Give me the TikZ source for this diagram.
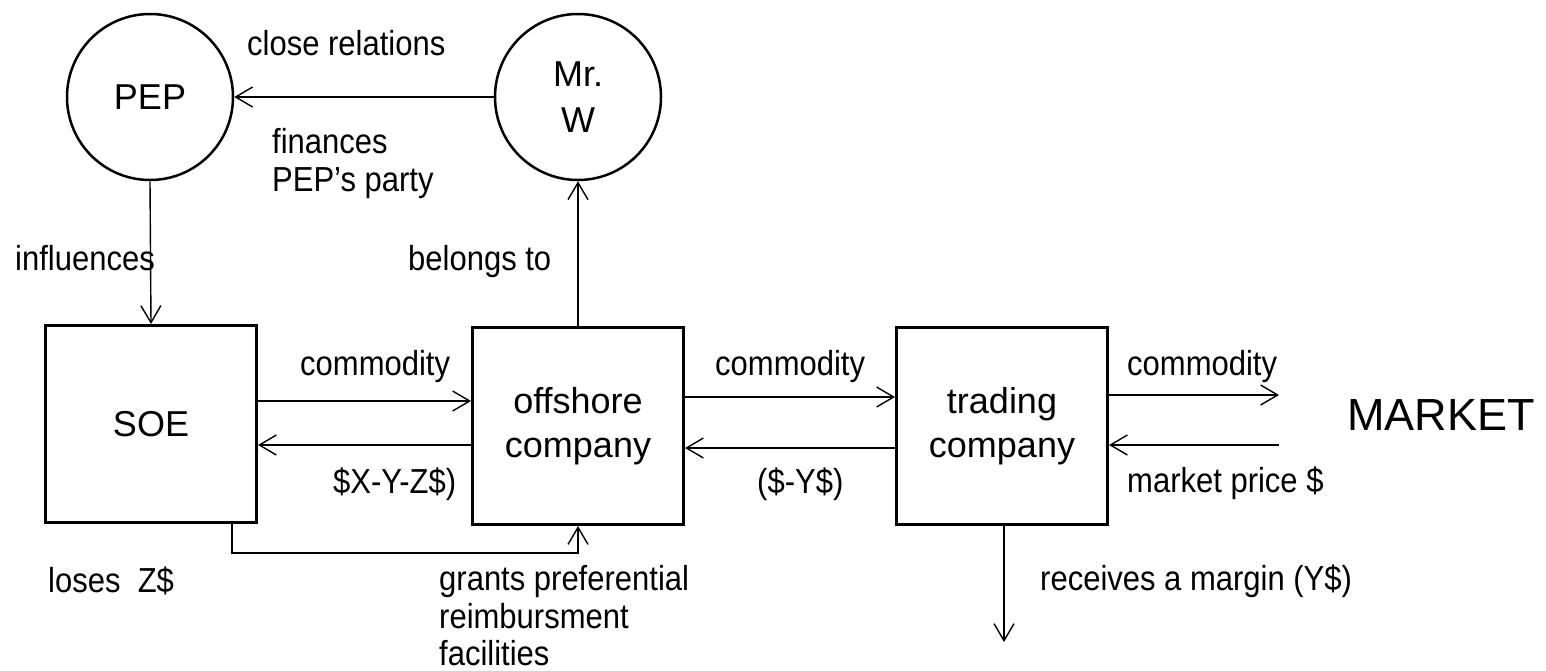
\documentclass[tikz,border=0pt]{standalone}
\usepackage{fontspec}
\setmainfont{Liberation Sans}
\usetikzlibrary{arrows.meta}
\newcommand{\sx}[1]{\scalebox{1}[1.12]{#1}}
\begin{document}
\begin{tikzpicture}[x=1pt,y=-1pt,
  lbl/.style={anchor=base west,inner sep=0pt,font=\fontsize{31}{38}\selectfont},
  circ/.style={draw,circle,line width=2.5pt,minimum size=166pt,inner sep=0pt,align=center,font=\fontsize{36}{46}\selectfont},
  box/.style={draw,rectangle,line width=3pt,minimum width=211pt,minimum height=197pt,inner sep=0pt,align=center,font=\fontsize{36}{44}\selectfont},
  conn/.style={line width=1.4pt,-{Straight Barb[length=17pt,width=20pt,line width=1.4pt]}}]
\useasboundingbox (0,0) rectangle (1546,670);
% nodes
\node[circ] (pep) at (150,97) {PEP};
\node[circ] (mrw) at (578,97) {Mr.\\W};
\node[box] (soe) at (151,424) {SOE};
\node[box] (off) at (578,426) {offshore\\company};
\node[box] (trade) at (1002,426) {trading\\company};
\node[anchor=base west,inner sep=0pt,font=\fontsize{45}{54}\selectfont] (market) at (1347,430) {MARKET};
% coordinates
\coordinate (r1) at (0,401);
\coordinate (r2) at (0,445);
\coordinate (r3) at (0,397);
\coordinate (r4) at (0,448);
\coordinate (m1) at (1279,395);
\coordinate (m2) at (1279,445);
\coordinate (b1) at (232,553);
\coordinate (marg) at (1004,642);
% connectors
\draw[conn] (mrw.west) -- (pep.east);
\draw[conn] (pep.south) -- (soe.north);
\draw[conn] (off.north) -- (mrw.south);
\draw[conn] (soe.east |- r1) -- (off.west |- r1);
\draw[conn] (off.west |- r2) -- (soe.east |- r2);
\draw[conn] (off.east |- r3) -- (trade.west |- r3);
\draw[conn] (trade.west |- r4) -- (off.east |- r4);
\draw[conn] (trade.east |- m1) -- (m1);
\draw[conn] (m2) -- (trade.east |- m2);
\draw[conn] ([yshift=3pt]soe.south -| b1) -- (b1) -| (off.south);
\draw[conn] (trade.south -| marg) -- (marg);
% labels
\node[lbl] (t1) at (247,55) {\sx{close relations}};
\node[lbl] (t2) at (272,153) {\sx{finances}};
\node[lbl] (t3) at (272,191) {\sx{PEP’s party}};
\node[lbl] (t4) at (15,270) {\sx{influences}};
\node[lbl] (t5) at (408,270) {\sx{belongs to}};
\node[lbl] (t6) at (300,375) {\sx{commodity}};
\node[lbl] (t7) at (715,375) {\sx{commodity}};
\node[lbl] (t8) at (1127,375) {\sx{commodity}};
\node[lbl] (t9) at (333,493) {\sx{\$X-Y-Z\$)}};
\node[lbl] (t10) at (757,493) {\sx{(\$-Y\$)}};
\node[lbl] (t11) at (1127,492) {\sx{market price \$}};
\node[lbl] (t12) at (48,592) {\sx{loses\ \ Z\$}};
\node[lbl] (t13) at (439,590) {\sx{grants preferential}};
\node[lbl] (t14) at (439,628) {\sx{reimbursment}};
\node[lbl] (t15) at (439,665) {\sx{facilities}};
\node[lbl] (t16) at (1040,590) {\sx{receives a margin (Y\$)}};
\end{tikzpicture}
\end{document}
